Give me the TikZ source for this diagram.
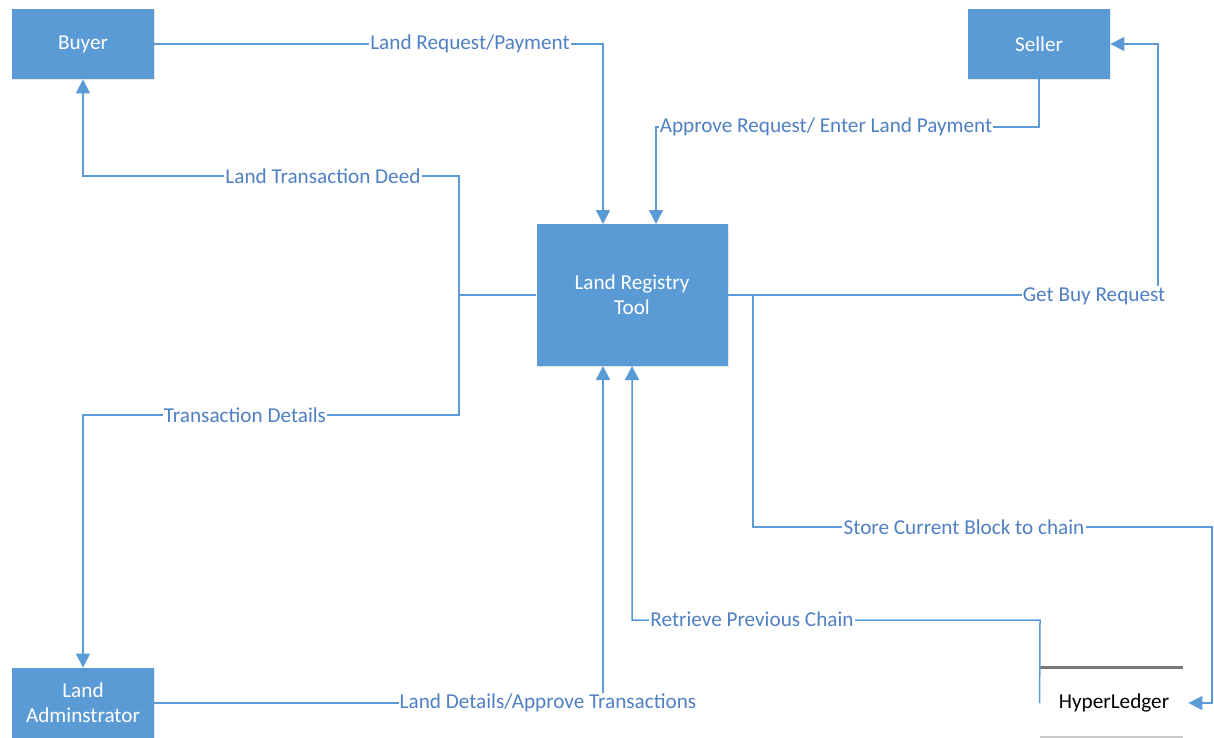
\documentclass[tikz,border=0pt]{standalone}
\usepackage{fontspec}
\setmainfont{Carlito}
\usetikzlibrary{positioning}
\usetikzlibrary{arrows.meta}
\usetikzlibrary{shadows}
\definecolor{boxblue}{RGB}{91,155,213}
\definecolor{lblblue}{RGB}{80,128,196}
\definecolor{storegray}{RGB}{120,120,120}

\begin{document}
\begin{tikzpicture}[x=0.5pt,y=-0.5pt,
	font=\fontsize{10.6}{12.5}\selectfont,
	box/.style={fill=boxblue,text=white,align=center,minimum width=71pt,minimum height=35pt,
		drop shadow={opacity=0.2,shadow xshift=0.6pt,shadow yshift=-0.6pt}},
	store/.style={minimum width=74pt,minimum height=35pt,inner sep=0pt},
	flow/.style={draw=boxblue,line width=0.75pt,-{Triangle[length=7pt,width=7pt]}},
	lbl/.style={fill=white,text=lblblue,inner sep=0.6pt}]
	\useasboundingbox (0,0) rectangle (1214,738);
	\node[box] (buyer) at (83,44) {Buyer};
	\node[box] (seller) at (1039,44) {Seller};
	\node[box,minimum width=95.5pt,minimum height=71pt] (tool) at (632,295) {Land Registry\\Tool};
	\node[box] (admin) at (83,703) {Land\\Adminstrator};
	\node[store] (hl) at (1114,703) {HyperLedger};
	\draw[storegray,line width=1.5pt] (1040,667) -- (1183,667);
	\draw[storegray!40,line width=1.5pt] (1040,737) -- (1183,737);
	\coordinate (ta) at (603,224);
	\coordinate (tb) at (656,224);
	\coordinate (tc) at (603,366);
	\coordinate (td) at (632,366);
	\coordinate (c1) at (459,176);
	\coordinate (c2) at (459,415);
	\coordinate (c3) at (1040,620);
	\coordinate (c4) at (1158,295);
	\coordinate (c5) at (1212,527);
	\coordinate (c6) at (656,127);
	\coordinate (se) at (753,295);
	\draw[flow] (buyer.east) -| (ta);
	\draw[flow] (seller.south) |- (c6) -- (tb);
	\draw[flow] (tool.west) -| (c1) -| (buyer.south);
	\draw[flow] (tool.west) -| (c2) -| (admin.north);
	\draw[flow] (admin.east) -| (tc);
	\draw[flow] (hl.west) -- (c3) -| (td);
	\draw[flow] (tool.east) -- (c4) |- (seller.east);
	\draw[flow] (se) |- (c5) |- (hl.east);
	\node[lbl] (l1) at (470,44) {Land Request/Payment};
	\node[lbl] (l2) at (826,127) {Approve Request/ Enter Land Payment};
	\node[lbl] (l3) at (323,176) {Land Transaction Deed};
	\node[lbl] (l4) at (245,415) {Transaction Details};
	\node[lbl] (l5) at (1094,296) {Get Buy Request};
	\node[lbl] (l6) at (964,527) {Store Current Block to chain};
	\node[lbl] (l7) at (752,619) {Retrieve Previous Chain};
	\node[lbl] (l8) at (548,703) {Land Details/Approve Transactions};
\end{tikzpicture}
\end{document}
